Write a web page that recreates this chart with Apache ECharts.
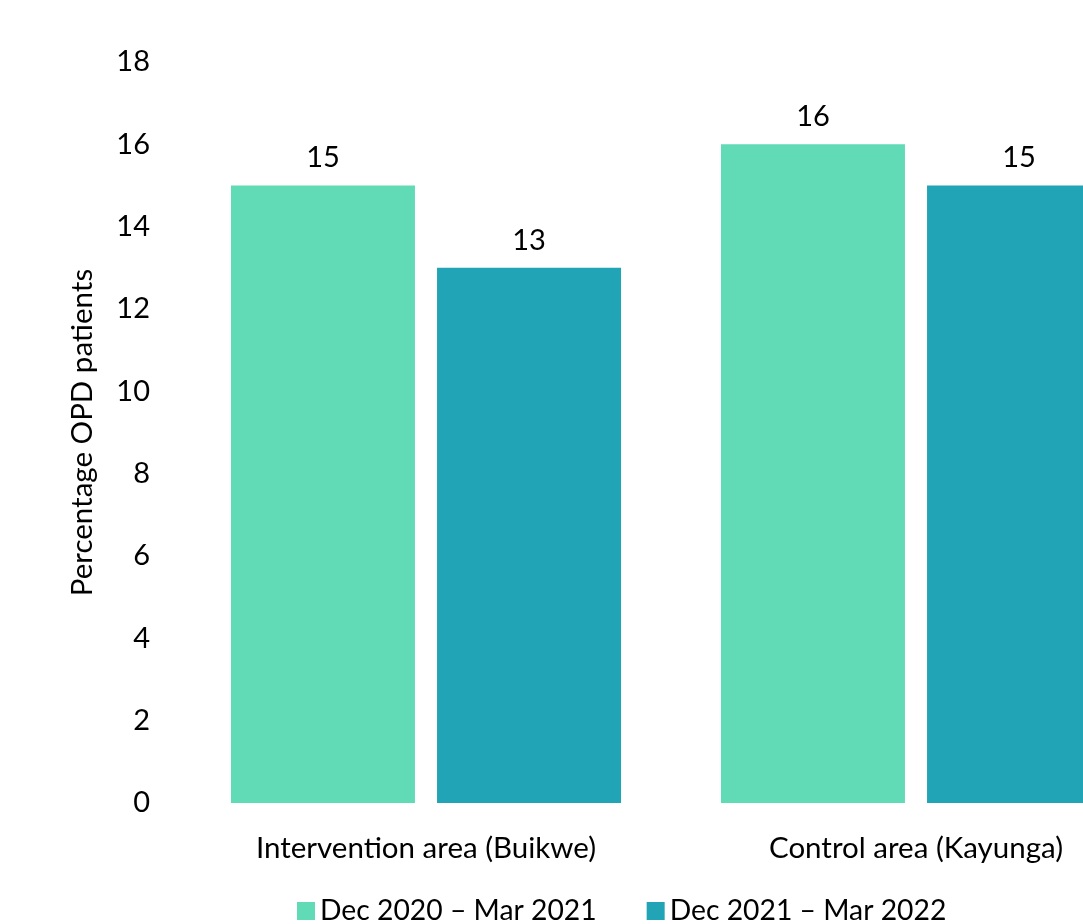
<!DOCTYPE html>
<html>
<head>
<meta charset="utf-8">
<script src="https://cdn.jsdelivr.net/npm/echarts@6/dist/echarts.min.js"></script>
<style>
html,body{margin:0;padding:0;background:#fff;overflow:hidden;width:1083px;height:924px;}
#chart{width:1161px;height:924px;}
</style>
</head>
<body>
<div id="chart"></div>
<script>
var categories = ['Intervention area (Buikwe)', 'Control area (Kayunga)'];
var seriesNames = ['Dec 2020 \u2013 Mar 2021', 'Dec 2021 \u2013 Mar 2022'];
var period1 = [15, 16];
var period2 = [13, 15];
var yTicks = [0, 2, 4, 6, 8, 10, 12, 14, 16, 18];

var FONT = 'Lato';
var chart = echarts.init(document.getElementById('chart'), null, {renderer: 'canvas'});
var labelStyle = {show: true, position: 'top', distance: 13, color: '#000', fontFamily: FONT, fontSize: 29};
chart.setOption({
  animation: false,
  backgroundColor: '#fff',
  grid: {left: 181, right: 0, top: 62, bottom: 121, containLabel: false},
  legend: {
    left: 292, top: 892,
    itemWidth: 18, itemHeight: 18, itemGap: 50,
    icon: 'rect',
    textStyle: {fontFamily: FONT, fontSize: 28.3, color: '#000'},
    data: seriesNames
  },
  xAxis: {
    type: 'category',
    data: categories,
    axisLine: {show: false},
    axisTick: {show: false},
    axisLabel: {color: '#000', fontFamily: FONT, fontSize: 29.5, margin: 30}
  },
  yAxis: {
    type: 'value',
    min: yTicks[0], max: yTicks[yTicks.length - 1], interval: 2,
    name: 'Percentage OPD patients',
    nameLocation: 'middle',
    nameGap: 84,
    nameTextStyle: {color: '#000', fontFamily: FONT, fontSize: 29.5},
    axisLine: {show: false},
    axisTick: {show: false},
    splitLine: {show: false},
    axisLabel: {color: '#000', fontFamily: FONT, fontSize: 29, margin: 31}
  },
  series: [
    {name: seriesNames[0], type: 'bar', data: period1, itemStyle: {color: '#61DBB6'},
     barGap: '12%', barCategoryGap: '20.4%', label: labelStyle},
    {name: seriesNames[1], type: 'bar', data: period2, itemStyle: {color: '#21A4B5'},
     barGap: '12%', barCategoryGap: '20.4%', label: labelStyle}
  ]
});
</script>
</body>
</html>
